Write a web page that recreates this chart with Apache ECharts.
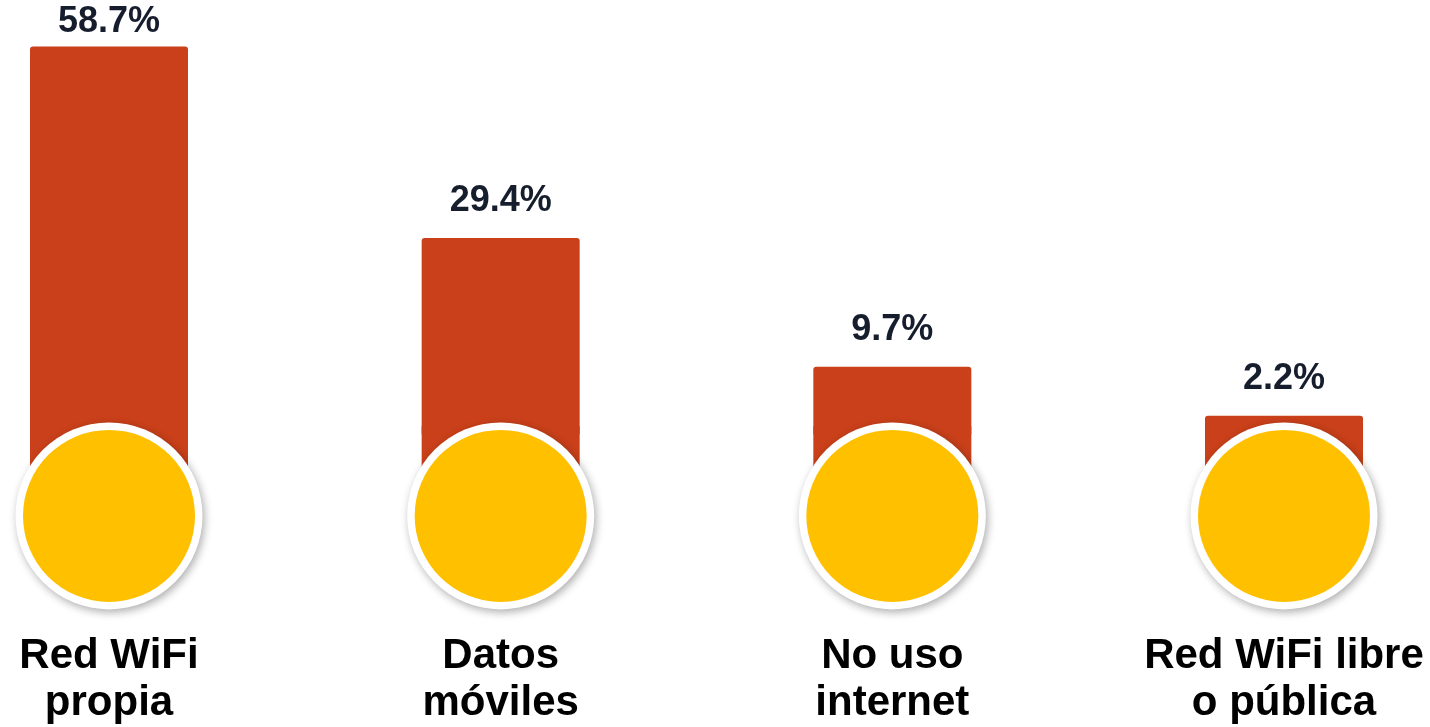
<!DOCTYPE html>
<html>
<head>
<meta charset="utf-8">
<script src="https://cdn.jsdelivr.net/npm/echarts@6/dist/echarts.min.js"></script>
<style>
  html, body { margin: 0; padding: 0; background: #ffffff; }
  #chart { width: 1430px; height: 727px; }
</style>
</head>
<body>
<div id="chart"></div>
<script>
const categories = ['Red WiFi\npropia', 'Datos\nmóviles', 'No uso\ninternet', 'Red WiFi libre\no pública'];
const values = [58.7, 29.4, 9.7, 2.2];

const BAR_COLOR = '#C9401A';
const DOT_COLOR = '#FFC000';
const CIRCLE_LEVEL = -13.1;
const FONT = '"Liberation Sans", Arial, sans-serif';

const chart = echarts.init(document.getElementById('chart'));
chart.setOption({
  backgroundColor: '#ffffff',
  animation: false,
  grid: { left: 109, right: 146, top: 38, height: 524 },
  xAxis: {
    type: 'category',
    data: categories,
    boundaryGap: false,
    axisLine: { show: false, onZero: false },
    axisTick: { show: false },
    splitLine: { show: false },
    axisLabel: {
      interval: 0,
      margin: 72,
      color: '#000000',
      fontFamily: FONT,
      fontWeight: 'bold',
      fontSize: 42,
      lineHeight: 47
    }
  },
  yAxis: {
    type: 'value',
    min: -20,
    max: 60,
    show: false,
    splitLine: { show: false }
  },
  series: [
    {
      type: 'bar',
      barWidth: 158,
      barGap: '-100%',
      z: 2,
      itemStyle: { color: BAR_COLOR, borderRadius: [3, 3, 0, 0] },
      label: {
        show: true,
        position: 'top',
        distance: 19,
        formatter: '{c}%',
        color: '#161E2E',
        fontFamily: FONT,
        fontWeight: 'bold',
        fontSize: 36
      },
      data: values.map((v, i) => i === 0 ? { value: v, label: { distance: 6 } } : v)
    },
    {
      type: 'bar',
      barWidth: 158,
      barGap: '-100%',
      z: 1,
      silent: true,
      itemStyle: { color: BAR_COLOR },
      data: values.map(() => CIRCLE_LEVEL)
    },
    {
      type: 'scatter',
      z: 3,
      symbol: 'rect',
      symbolSize: [158, 8],
      silent: true,
      itemStyle: { color: BAR_COLOR, opacity: 1 },
      data: categories.map((c) => [c, 0])
    },
    {
      type: 'scatter',
      z: 4,
      symbol: 'circle',
      symbolSize: 187,
      silent: true,
      itemStyle: {
        color: '#ffffff',
        opacity: 1,
        shadowBlur: 8,
        shadowColor: 'rgba(0,0,0,0.32)',
        shadowOffsetX: 2,
        shadowOffsetY: 3
      },
      data: categories.map((c) => [c, CIRCLE_LEVEL])
    },
    {
      type: 'scatter',
      z: 5,
      symbol: 'circle',
      symbolSize: 172,
      silent: true,
      itemStyle: { color: DOT_COLOR, opacity: 1 },
      data: categories.map((c) => [c, CIRCLE_LEVEL])
    }
  ]
});
</script>
</body>
</html>
